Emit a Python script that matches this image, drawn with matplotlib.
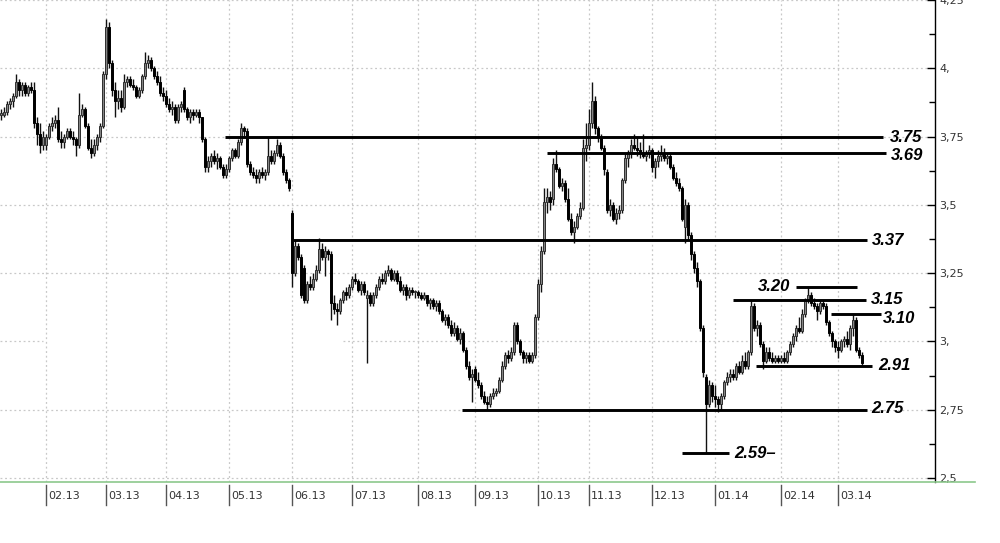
import matplotlib
matplotlib.use("Agg")
import matplotlib.pyplot as plt
import matplotlib.transforms as mtransforms
from matplotlib.lines import Line2D
import numpy as np

# ---------------- data: daily candles (open, high, low, close) per month ----------------
jan13 = [(3.83,3.85,3.81,3.83),(3.83,3.86,3.82,3.84),(3.84,3.88,3.83,3.87),(3.87,3.89,3.85,3.88),
         (3.88,3.91,3.86,3.90),(3.90,3.98,3.89,3.95),(3.95,3.96,3.90,3.92),(3.92,3.95,3.90,3.94),
         (3.94,3.95,3.90,3.91),(3.91,3.94,3.90,3.93),(3.93,3.95,3.91,3.92),(3.92,3.95,3.78,3.80),
         (3.80,3.82,3.72,3.76),(3.76,3.80,3.69,3.72),(3.72,3.77,3.70,3.75)]
feb13 = [(3.72,3.76,3.70,3.75),(3.75,3.80,3.74,3.79),(3.79,3.82,3.77,3.80),(3.80,3.83,3.78,3.81),
         (3.81,3.86,3.73,3.74),(3.74,3.77,3.71,3.73),(3.73,3.76,3.71,3.75),(3.75,3.78,3.74,3.77),
         (3.77,3.78,3.74,3.75),(3.75,3.77,3.72,3.74),(3.74,3.75,3.68,3.72),(3.72,3.91,3.71,3.83),
         (3.83,3.87,3.82,3.85),(3.85,3.86,3.78,3.79),(3.79,3.80,3.70,3.71),(3.71,3.74,3.67,3.69),
         (3.69,3.74,3.68,3.72),(3.72,3.76,3.70,3.75),(3.75,3.80,3.73,3.79),(3.79,3.99,3.78,3.98)]
mar13 = [(3.98,4.18,3.96,4.15),(4.15,4.17,4.00,4.02),(4.02,4.03,3.90,3.92),(3.92,3.95,3.82,3.88),
         (3.88,3.92,3.85,3.89),(3.89,3.92,3.84,3.86),(3.86,3.98,3.85,3.95),(3.95,3.97,3.93,3.96),
         (3.96,3.97,3.93,3.94),(3.94,3.96,3.92,3.93),(3.93,3.94,3.89,3.90),(3.90,3.93,3.89,3.92),
         (3.92,3.98,3.91,3.97),(3.97,4.06,3.96,4.02),(4.02,4.05,4.00,4.03),(4.03,4.04,3.99,4.00),
         (4.00,4.01,3.96,3.97),(3.97,3.99,3.94,3.95),(3.95,3.97,3.90,3.91),(3.91,3.93,3.88,3.90)]
apr13 = [(3.90,3.92,3.86,3.87),(3.87,3.89,3.84,3.85),(3.85,3.88,3.83,3.86),(3.86,3.87,3.80,3.81),
         (3.81,3.87,3.80,3.86),(3.86,3.88,3.84,3.87),(3.92,3.93,3.84,3.85),(3.85,3.86,3.81,3.82),
         (3.82,3.85,3.80,3.84),(3.84,3.85,3.81,3.83),(3.83,3.85,3.82,3.84),(3.84,3.85,3.80,3.82),
         (3.82,3.82,3.73,3.74),(3.74,3.75,3.62,3.64),(3.64,3.68,3.62,3.66),(3.66,3.69,3.64,3.68),
         (3.68,3.70,3.65,3.66),(3.66,3.69,3.63,3.67),(3.67,3.68,3.63,3.64),(3.64,3.65,3.60,3.61),
         (3.61,3.65,3.60,3.63)]
may13 = [(3.63,3.68,3.62,3.67),(3.67,3.71,3.66,3.70),(3.70,3.71,3.67,3.68),(3.68,3.74,3.67,3.73),
         (3.73,3.80,3.72,3.78),(3.78,3.79,3.75,3.77),(3.77,3.78,3.64,3.65),(3.65,3.66,3.61,3.62),
         (3.62,3.64,3.60,3.61),(3.61,3.63,3.58,3.60),(3.60,3.63,3.58,3.62),(3.62,3.64,3.60,3.61),
         (3.61,3.63,3.59,3.62),(3.62,3.75,3.61,3.68),(3.68,3.70,3.65,3.66),(3.66,3.70,3.65,3.69),
         (3.69,3.74,3.68,3.72),(3.72,3.73,3.67,3.68),(3.68,3.69,3.61,3.62),(3.62,3.63,3.58,3.59),
         (3.59,3.60,3.55,3.56)]
jun13 = [(3.47,3.48,3.20,3.25),(3.25,3.37,3.24,3.35),(3.35,3.36,3.30,3.31),(3.31,3.32,3.16,3.17),
         (3.27,3.28,3.14,3.15),(3.15,3.22,3.14,3.21),(3.21,3.24,3.19,3.20),(3.20,3.25,3.19,3.23),
         (3.23,3.28,3.22,3.26),(3.26,3.38,3.25,3.34),(3.34,3.36,3.30,3.31),(3.31,3.35,3.24,3.33),
         (3.33,3.34,3.30,3.32),(3.32,3.33,3.08,3.14),(3.14,3.17,3.10,3.12),(3.12,3.14,3.06,3.11),
         (3.11,3.16,3.10,3.15),(3.15,3.19,3.14,3.18),(3.18,3.20,3.15,3.17),(3.17,3.21,3.16,3.20)]
jul13 = [(3.20,3.24,3.19,3.23),(3.23,3.25,3.21,3.22),(3.22,3.23,3.18,3.19),(3.19,3.22,3.17,3.21),
         (3.21,3.22,3.17,3.18),(3.16,3.19,2.92,3.17),(3.17,3.18,3.13,3.14),(3.14,3.18,3.13,3.17),
         (3.17,3.21,3.16,3.20),(3.20,3.24,3.19,3.23),(3.23,3.25,3.21,3.22),(3.22,3.26,3.21,3.25),
         (3.25,3.28,3.24,3.26),(3.26,3.27,3.22,3.23),(3.23,3.26,3.22,3.25),(3.25,3.26,3.21,3.22),
         (3.22,3.24,3.18,3.19),(3.19,3.21,3.17,3.20),(3.20,3.21,3.15,3.17),(3.17,3.20,3.16,3.19),
         (3.19,3.20,3.17,3.18),(3.18,3.19,3.16,3.18)]
aug13 = [(3.18,3.19,3.16,3.17),(3.17,3.18,3.15,3.16),(3.16,3.18,3.15,3.17),(3.17,3.17,3.13,3.14),
         (3.14,3.16,3.12,3.15),(3.15,3.16,3.12,3.13),(3.13,3.15,3.11,3.14),(3.14,3.15,3.10,3.11),
         (3.11,3.12,3.07,3.08),(3.08,3.10,3.06,3.09),(3.09,3.10,3.05,3.06),(3.06,3.08,3.02,3.03),
         (3.03,3.07,3.02,3.05),(3.05,3.06,3.00,3.01),(3.01,3.05,2.99,3.03),(3.03,3.04,2.96,2.97),
         (2.97,2.98,2.90,2.91),(2.91,2.93,2.86,2.87),(2.87,2.90,2.78,2.88)]
sep13 = [(2.90,2.91,2.85,2.86),(2.86,2.89,2.83,2.84),(2.84,2.85,2.79,2.80),(2.80,2.82,2.77,2.78),
         (2.78,2.80,2.75,2.77),(2.77,2.81,2.76,2.80),(2.80,2.83,2.79,2.81),(2.81,2.83,2.80,2.82),
         (2.82,2.87,2.81,2.86),(2.86,2.93,2.85,2.91),(2.91,2.96,2.90,2.95),(2.95,2.97,2.92,2.94),
         (2.94,2.98,2.93,2.96),(2.96,3.07,2.95,3.06),(3.06,3.07,2.99,3.00),(3.00,3.01,2.95,2.96),
         (2.96,2.97,2.92,2.94),(2.94,2.96,2.92,2.95),(2.95,2.96,2.92,2.93),(2.93,2.96,2.92,2.95),
         (2.95,3.10,2.94,3.09)]
oct13 = [(3.09,3.23,3.08,3.21),(3.21,3.35,3.18,3.33),(3.33,3.56,3.32,3.51),(3.51,3.56,3.47,3.53),
         (3.53,3.55,3.48,3.51),(3.52,3.67,3.50,3.65),(3.65,3.70,3.62,3.63),(3.63,3.64,3.56,3.57),
         (3.57,3.60,3.55,3.58),(3.58,3.59,3.51,3.52),(3.52,3.56,3.44,3.45),(3.45,3.47,3.39,3.40),
         (3.40,3.44,3.36,3.42),(3.42,3.47,3.41,3.46),(3.46,3.51,3.45,3.49),(3.49,3.74,3.48,3.71),
         (3.71,3.80,3.66,3.72)]
nov13 = [(3.72,3.85,3.70,3.80),(3.80,3.95,3.78,3.88),(3.88,3.90,3.76,3.78),(3.78,3.79,3.73,3.75),
         (3.75,3.76,3.70,3.71),(3.71,3.72,3.61,3.63),(3.62,3.63,3.47,3.48),(3.48,3.52,3.46,3.50),
         (3.50,3.51,3.44,3.45),(3.45,3.49,3.43,3.47),(3.47,3.50,3.45,3.48),(3.48,3.60,3.47,3.59),
         (3.59,3.69,3.58,3.67),(3.67,3.70,3.64,3.69),(3.69,3.74,3.67,3.72),(3.72,3.76,3.70,3.71),
         (3.71,3.75,3.68,3.70),(3.70,3.73,3.67,3.69),(3.69,3.76,3.67,3.68),(3.68,3.70,3.66,3.69),
         (3.69,3.72,3.67,3.70)]
dec13 = [(3.70,3.71,3.62,3.64),(3.64,3.67,3.60,3.66),(3.66,3.70,3.64,3.68),(3.68,3.72,3.66,3.69),
         (3.69,3.71,3.66,3.67),(3.67,3.69,3.65,3.68),(3.68,3.69,3.63,3.64),(3.64,3.65,3.59,3.60),
         (3.60,3.62,3.57,3.58),(3.58,3.60,3.55,3.56),(3.56,3.57,3.44,3.45),(3.42,3.52,3.36,3.50),
         (3.50,3.51,3.37,3.39),(3.39,3.40,3.30,3.32),(3.32,3.33,3.25,3.27),(3.27,3.29,3.20,3.22),
         (3.22,3.23,3.04,3.05),(3.05,3.06,2.87,2.89),(2.87,2.88,2.59,2.77),(2.77,2.86,2.76,2.84),
         (2.84,2.85,2.78,2.80)]
jan14 = [(2.80,2.84,2.76,2.79),(2.79,2.80,2.74,2.77),(2.77,2.81,2.75,2.80),(2.80,2.86,2.79,2.85),
         (2.85,2.89,2.84,2.87),(2.87,2.90,2.85,2.88),(2.88,2.90,2.86,2.87),(2.87,2.92,2.86,2.91),
         (2.91,2.93,2.88,2.89),(2.89,2.95,2.88,2.93),(2.93,2.96,2.90,2.91),(2.91,2.97,2.90,2.96),
         (2.96,3.15,2.95,3.13),(3.13,3.14,3.04,3.05),(3.05,3.08,3.02,3.06),(3.06,3.07,2.98,2.99),
         (2.99,3.00,2.90,2.93),(2.93,2.98,2.92,2.96),(2.96,2.98,2.93,2.94),(2.94,2.96,2.92,2.93),
         (2.93,2.95,2.92,2.94),(2.94,2.95,2.92,2.93)]
feb14 = [(2.93,2.95,2.92,2.94),(2.94,2.96,2.92,2.93),(2.93,2.97,2.92,2.96),(2.96,3.00,2.95,2.99),
         (2.99,3.03,2.98,3.02),(3.02,3.06,3.00,3.05),(3.05,3.09,3.03,3.04),(3.04,3.12,3.03,3.10),
         (3.10,3.16,3.09,3.15),(3.15,3.20,3.14,3.17),(3.17,3.18,3.13,3.14),(3.14,3.16,3.12,3.13),
         (3.13,3.14,3.08,3.11),(3.11,3.15,3.10,3.14),(3.14,3.15,3.12,3.13),(3.13,3.14,3.06,3.07),
         (3.07,3.08,3.02,3.03),(3.03,3.04,2.98,3.00),(3.00,3.01,2.96,2.98)]
mar14 = [(2.98,3.00,2.94,2.97),(2.97,3.01,2.96,3.00),(3.00,3.02,2.98,3.01),(3.01,3.04,2.98,2.99),
         (2.99,3.06,2.97,3.05),(3.05,3.10,3.02,3.08),(3.08,3.09,2.96,2.97),(2.97,2.98,2.94,2.95),
         (2.95,2.96,2.91,2.92)]

month_labels = ["02.13", "03.13", "04.13", "05.13", "06.13", "07.13", "08.13", "09.13",
                "10.13", "11.13", "12.13", "01.14", "02.14", "03.14"]

y_ticks = [2.5, 2.75, 3.0, 3.25, 3.5, 3.75, 4.0, 4.25]
y_tick_labels = ["2,5", "2,75", "3,", "3,25", "3,5", "3,75", "4,", "4,25"]

level_values = [3.75, 3.69, 3.37, 3.20, 3.15, 3.10, 2.91, 2.75, 2.59]
level_texts = ["3.75", "3.69", "3.37", "3.20", "3.15", "3.10", "2.91", "2.75", "2.59\u2013"]

# ---------------- layout (positions in candle index units, offsets in pixels) ----------------
line_spans = [(74.7, 294.0), (182.0, 295.0), (97.3, 288.7), (265.0, 285.3), (244.0, 288.3),
              (276.7, 293.3), (251.7, 290.3), (153.7, 288.7), (227.0, 242.7)]
label_x = [296.3, 296.7, 290.3, 263.0, 290.0, 294.0, 292.3, 290.0, 244.3]
label_ha = ["left", "left", "left", "right", "left", "left", "left", "left", "left"]
label_dy = [-1, -3, 0, 0, 1, -4, 1, 1, 0]

months = [jan13, feb13, mar13, apr13, may13, jun13, jul13, aug13, sep13,
          oct13, nov13, dec13, jan14, feb14, mar14]
ohlc = np.array([c for m in months for c in m])
o, h, l, c = ohlc.T
x = np.arange(len(ohlc))
month_starts = np.cumsum([len(m) for m in months])[:-1]

W, H = 1000, 543
fig = plt.figure(figsize=(W / 100, H / 100), dpi=100)
fig.patch.set_facecolor("white")
ax_bottom_px = 482
ax = fig.add_axes([0, 1 - ax_bottom_px / H, 935 / W, ax_bottom_px / H])
ax.set_xlim(-0.33, 311.3)
ax.set_ylim(2.4855, 4.239)

grid_kw = dict(color="#c8c8c8", lw=0.9, linestyle=(0, (1.5, 2.2)), zorder=0)
for s in month_starts:
    ax.axvline(s, **grid_kw)
for yv in y_ticks:
    if yv == 3.0:
        ax.hlines(yv, -0.33, 14.0, **grid_kw)
        ax.hlines(yv, 114.0, 311.3, **grid_kw)
    else:
        ax.axhline(yv, **grid_kw)

# candles
up = c >= o
bottom = np.minimum(o, c)
height = np.maximum(np.abs(c - o), 0.005)
ax.vlines(x, l, h, color="#111111", lw=1.0, zorder=2)
ax.bar(x[up], height[up], bottom=bottom[up], width=0.72, color="#858585",
       edgecolor="#2e2e2e", linewidth=0.7, zorder=3)
ax.bar(x[~up], height[~up], bottom=bottom[~up], width=0.72, color="black",
       edgecolor="black", linewidth=0.7, zorder=3)

# level lines and labels
for val, txt, (x0, x1), tx, ha, dy in zip(level_values, level_texts, line_spans,
                                           label_x, label_ha, label_dy):
    ax.hlines(val, x0, x1, color="black", lw=2.1, zorder=4)
    tr = mtransforms.offset_copy(ax.transData, fig=fig, x=0, y=dy, units="dots")
    ax.text(tx, val, txt, transform=tr, ha=ha, va="center", fontsize=12,
            fontweight="bold", fontstyle="italic", family="Liberation Sans",
            color="black", zorder=5)

# y axis on the right
for side in ["top", "left", "bottom"]:
    ax.spines[side].set_visible(False)
ax.spines["right"].set_color("black")
ax.spines["right"].set_linewidth(1.0)
ax.yaxis.tick_right()
ax.set_yticks(y_ticks)
ax.set_yticklabels(y_tick_labels)
ax.set_yticks([v + 0.125 for v in y_ticks[:-1]], minor=True)
ax.tick_params(axis="y", which="major", direction="in", length=6, width=1,
               labelsize=8, labelcolor="#333333", pad=3)
ax.tick_params(axis="y", which="minor", direction="in", length=4, width=1)
ax.set_xticks([])

# month ticks below the axis
blend = mtransforms.blended_transform_factory(ax.transData, ax.transAxes)
lab_tr = mtransforms.offset_copy(blend, fig=fig, x=2, y=0, units="dots")
for s, lab in zip(month_starts, month_labels):
    ax.plot([s, s], [-3 / ax_bottom_px, -23 / ax_bottom_px], transform=blend,
            color="#555555", lw=1.0, clip_on=False)
    ax.text(s, -14 / ax_bottom_px, lab, transform=lab_tr, ha="left", va="center",
            fontsize=8, color="#333333", clip_on=False)

# green baseline
fig.add_artist(Line2D([0, 0.975], [1 - ax_bottom_px / H] * 2, transform=fig.transFigure,
                      color="#8cc88c", lw=1.2))

fig.savefig("out.png", dpi=100, facecolor="white")
